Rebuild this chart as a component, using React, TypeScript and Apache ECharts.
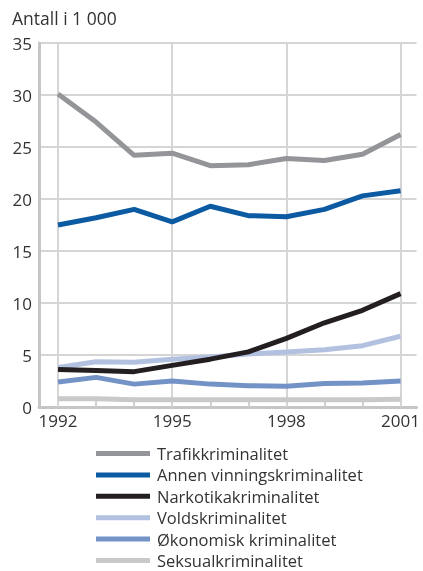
import React, { useEffect, useRef } from "react";
import * as echarts from "echarts";

const years = [1992, 1993, 1994, 1995, 1996, 1997, 1998, 1999, 2000, 2001];
const labelYears = [1992, 1995, 1998, 2001];
const yTicks = [0, 5, 10, 15, 20, 25, 30, 35];

const seriesNames = [
  "Trafikkriminalitet",
  "Annen vinningskriminalitet",
  "Narkotikakriminalitet",
  "Voldskriminalitet",
  "Økonomisk kriminalitet",
  "Seksualkriminalitet",
];
const trafikk = [30.1, 27.4, 24.2, 24.4, 23.2, 23.3, 23.9, 23.7, 24.3, 26.2];
const annen = [17.5, 18.2, 19.0, 17.8, 19.3, 18.4, 18.3, 19.0, 20.3, 20.8];
const narkotika = [3.6, 3.5, 3.4, 4.0, 4.6, 5.3, 6.6, 8.1, 9.3, 10.9];
const volds = [3.8, 4.35, 4.3, 4.6, 4.8, 5.1, 5.3, 5.5, 5.9, 6.8];
const okonomisk = [2.4, 2.85, 2.2, 2.5, 2.2, 2.05, 2.0, 2.25, 2.3, 2.5];
const seksual = [0.8, 0.8, 0.7, 0.7, 0.7, 0.7, 0.7, 0.7, 0.7, 0.75];
const allValues = [trafikk, annen, narkotika, volds, okonomisk, seksual];
const colors = ["#939598", "#0b5aa2", "#231f20", "#b3c1e1", "#7393c7", "#c9c9c9"];

const FONT = "'Open Sans', 'Noto Sans', sans-serif";

export default function App() {
  const ref = useRef<HTMLDivElement>(null);
  useEffect(() => {
    if (!ref.current) return;
    const chart = echarts.init(ref.current, undefined, { renderer: "svg" });
    const series: any[] = seriesNames.map((name, i) => ({
      name,
      type: "line",
      data: years.map((y, j) => [y, allValues[i][j]]),
      showSymbol: false,
      symbol: "none",
      lineStyle: { color: colors[i], width: 5 },
      itemStyle: { color: colors[i] },
      z: 10 - i,
    }));
    series.push({
      name: "__grid",
      type: "line",
      data: [],
      silent: true,
      markLine: {
        silent: true,
        symbol: "none",
        label: { show: false },
        lineStyle: { color: "#d5d5d5", width: 2, type: "solid" },
        data: labelYears.map((y) => ({ xAxis: y })),
        z: 1,
      },
    });
    chart.setOption({
      animation: false,
      textStyle: { fontFamily: FONT },
      title: {
        text: "Antall i 1 000",
        left: 7,
        top: 4,
        textStyle: { fontFamily: FONT, fontSize: 17.5, fontWeight: "normal", color: "#333" },
      },
      grid: { left: 39, right: 3, top: 43, bottom: 164, containLabel: false },
      xAxis: {
        type: "value",
        min: 1991.5,
        max: 2001.42,
        axisLine: { show: true, lineStyle: { color: "#c6c6c6", width: 3 } },
        axisTick: {
          show: true,
          inside: true,
          length: 7,
          customValues: years,
          lineStyle: { color: "#d0d0d0", width: 2 },
        },
        axisLabel: {
          customValues: labelYears,
          fontSize: 17,
          color: "#333",
          margin: 5,
          fontFamily: FONT,
          formatter: (v: number) => String(v),
        },
        splitLine: { show: false },
      },
      yAxis: {
        type: "value",
        min: 0,
        max: 35,
        interval: 5,
        axisLine: { show: true, lineStyle: { color: "#c6c6c6", width: 3 } },
        axisTick: { show: false },
        axisLabel: {
          fontSize: 17,
          color: "#333",
          margin: 7,
          fontFamily: FONT,
          formatter: (v: number) => (yTicks.includes(v) ? String(v) : ""),
        },
        splitLine: { show: true, lineStyle: { color: "#d5d5d5", width: 2 } },
      },
      legend: {
        orient: "vertical",
        left: 96,
        top: 445,
        padding: 0,
        data: seriesNames.map((name, i) => ({
          name,
          icon: "rect",
          itemStyle: { color: colors[i] },
        })),
        itemWidth: 54,
        itemHeight: 5,
        itemGap: 4.4,
        textStyle: { fontSize: 16.5, lineHeight: 17, color: "#333", fontFamily: FONT, padding: [0, 0, 0, 2] },
      },
      series,
    });
    return () => chart.dispose();
  }, []);
  return <div ref={ref} style={{ position: "fixed", left: 0, top: 0, width: 423, height: 571 }} />;
}
